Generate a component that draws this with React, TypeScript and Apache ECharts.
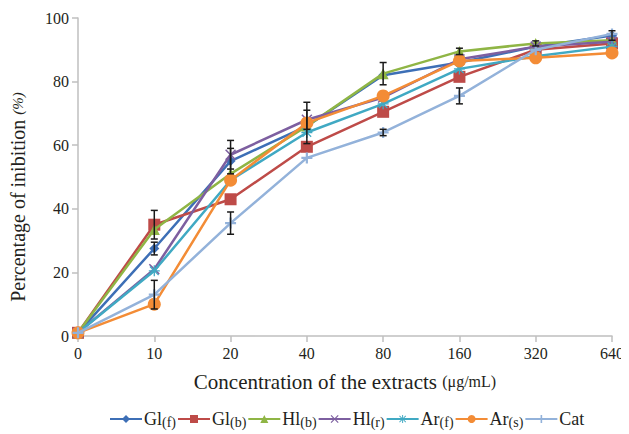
import React, { useEffect, useRef } from "react";
import * as echarts from "echarts";

const categories = ["0", "10", "20", "40", "80", "160", "320", "640"];
const yTicks = [0, 20, 40, 60, 80, 100];

const glf = [1, 27.5, 55, 66, 82, 86, 91, 94.5];
const glb = [1, 35, 43, 59.5, 70.5, 81.5, 90, 92];
const hlb = [1, 33.5, 51, 66, 82.5, 89.5, 92, 93];
const hlr = [1, 21, 57, 68, 75, 87, 91, 92.5];
const arf = [1, 20.5, 49, 64, 73, 84, 88, 91];
const ars = [1, 10, 49, 67, 75.5, 86.5, 87.5, 89];
const cat = [1, 13, 35.5, 56, 64, 75.5, 90, 95];

// error bars: which series, category index, standard deviation
const errSeries = ["glb", "glf", "cat", "hlr", "glf", "cat", "ars", "hlr", "hlb", "cat", "hlb", "cat", "hlb", "glf"];
const errIndex = [1, 1, 1, 2, 2, 2, 3, 3, 4, 4, 5, 5, 6, 7];
const errSd = [4.5, 2, 4.5, 4.5, 4, 3.5, 6.5, 3, 3.5, 1, 1, 2.5, 0.8, 1.5];

const seriesNames = ["Gl(f)", "Gl(b)", "Hl(b)", "Hl(r)", "Ar(f)", "Ar(s)", "Cat"];
const seriesKeys = ["glf", "glb", "hlb", "hlr", "arf", "ars", "cat"];
const seriesData: Record<string, number[]> = { glf, glb, hlb, hlr, arf, ars, cat };

const colors = ["#3d6fb6", "#be4b48", "#8fb545", "#7d5fa0", "#40a9c3", "#f38c36", "#93b2da"];

const PLUS = "path://M4,0H6V4H10V6H6V10H4V6H0V4H4Z";
const XSHAPE = "path://M1,0L5,4L9,0L10,1L6,5L10,9L9,10L5,6L1,10L0,9L4,5L0,1Z";
const STAR =
  "path://M4.4,0H5.6V3.6L8.5,0.7L9.3,1.5L6.4,4.4H10V5.6H6.4L9.3,8.5L8.5,9.3L5.6,6.4V10H4.4V6.4L1.5,9.3L0.7,8.5L3.6,5.6H0V4.4H3.6L0.7,1.5L1.5,0.7L4.4,3.6Z";
const symbols = ["diamond", "rect", "triangle", XSHAPE, STAR, "circle", PLUS];
const symbolSizes = [10, 12, 11, 11, 11, 13, 11];

const FONT = "Liberation Serif";
const INK = "#231f20";

export default function App() {
  const ref = useRef<HTMLDivElement>(null);
  useEffect(() => {
    if (!ref.current) return;
    const chart = echarts.init(ref.current, undefined, { renderer: "svg" });

    const lineSeries = seriesNames.map((name, i) => ({
      name,
      type: "line",
      data: seriesData[seriesKeys[i]],
      symbol: symbols[i],
      symbolSize: symbolSizes[i],
      showAllSymbol: true,
      lineStyle: { color: colors[i], width: 2.5 },
      itemStyle: { color: colors[i] },
      z: 2 + i,
    }));

    const errData = errSeries.map((k, j) => {
      const idx = errIndex[j];
      return [idx, seriesData[k][idx], errSd[j]];
    });

    const tickRich = { t: { fontFamily: FONT, fontSize: 16, color: INK } };

    const option: any = {
      animation: false,
      color: colors,
      textStyle: { fontFamily: FONT, color: INK },
      grid: { left: 78, right: 17, top: 18, bottom: 98, containLabel: false },
      xAxis: {
        type: "category",
        data: categories,
        boundaryGap: false,
        axisLine: { lineStyle: { color: "#bfbfbf", width: 1.5 } },
        axisTick: { alignWithLabel: true, length: 6, lineStyle: { color: "#bfbfbf", width: 1.5 } },
        axisLabel: {
          color: INK,
          fontFamily: FONT,
          fontSize: 16,
          margin: 9,
          formatter: (v: string) => `{t|${v}}`,
          rich: tickRich,
        },
        name: "Concentration of the extracts {s|(μg/mL)}",
        nameLocation: "middle",
        nameGap: 35,
        nameTextStyle: {
          color: INK,
          fontFamily: FONT,
          fontSize: 21,
          rich: { s: { fontFamily: FONT, fontSize: 16, color: INK } },
        },
      },
      yAxis: {
        type: "value",
        min: 0,
        max: 100,
        interval: 20,
        splitLine: { show: false },
        axisLine: { show: true, lineStyle: { color: "#bfbfbf", width: 1.5 } },
        axisTick: { show: true, length: 6, lineStyle: { color: "#bfbfbf", width: 1.5 } },
        axisLabel: {
          color: INK,
          fontFamily: FONT,
          fontSize: 16,
          margin: 9,
          formatter: (v: number) => (yTicks.includes(v) ? `{t|${v}}` : ""),
          rich: tickRich,
        },
        name: "Percentage of inibition {s|(%)}",
        nameLocation: "middle",
        nameGap: 50,
        nameTextStyle: {
          color: INK,
          fontFamily: FONT,
          fontSize: 20,
          padding: [0, 40, 0, 0],
          rich: { s: { fontFamily: FONT, fontSize: 15, color: INK, fontStyle: "italic" } },
        },
      },
      legend: {
        data: seriesNames,
        bottom: 0,
        left: 104,
        itemWidth: 32,
        itemHeight: 10,
        itemGap: 1,
        formatter: (n: string) => {
          const m = n.match(/^(\w+)(\(.*\))$/);
          return m ? `${m[1]}{s|${m[2]}}` : n;
        },
        textStyle: {
          color: INK,
          fontFamily: FONT,
          fontSize: 18,
          padding: [0, 0, 0, -3],
          rich: { s: { fontFamily: FONT, fontSize: 14, color: INK, padding: [6, 0, 0, 0] } },
        },
      },
      series: [
        ...lineSeries,
        {
          type: "custom",
          name: "err",
          z: 20,
          data: errData,
          renderItem: (params: any, api: any) => {
            const x = api.value(0);
            const m = api.value(1);
            const sd = api.value(2);
            const top = api.coord([x, m + sd]);
            const bot = api.coord([x, m - sd]);
            const style = { stroke: "#1a1a1a", lineWidth: 1.5 };
            return {
              type: "group",
              children: [
                { type: "line", shape: { x1: top[0], y1: top[1], x2: bot[0], y2: bot[1] }, style },
                { type: "line", shape: { x1: top[0] - 3.5, y1: top[1], x2: top[0] + 3.5, y2: top[1] }, style },
                { type: "line", shape: { x1: bot[0] - 3.5, y1: bot[1], x2: bot[0] + 3.5, y2: bot[1] }, style },
              ],
            };
          },
        },
      ],
    };
    chart.setOption(option);
    return () => chart.dispose();
  }, []);
  return <div ref={ref} style={{ width: 629, height: 434, marginLeft: -8, marginTop: -8 }} />;
}
